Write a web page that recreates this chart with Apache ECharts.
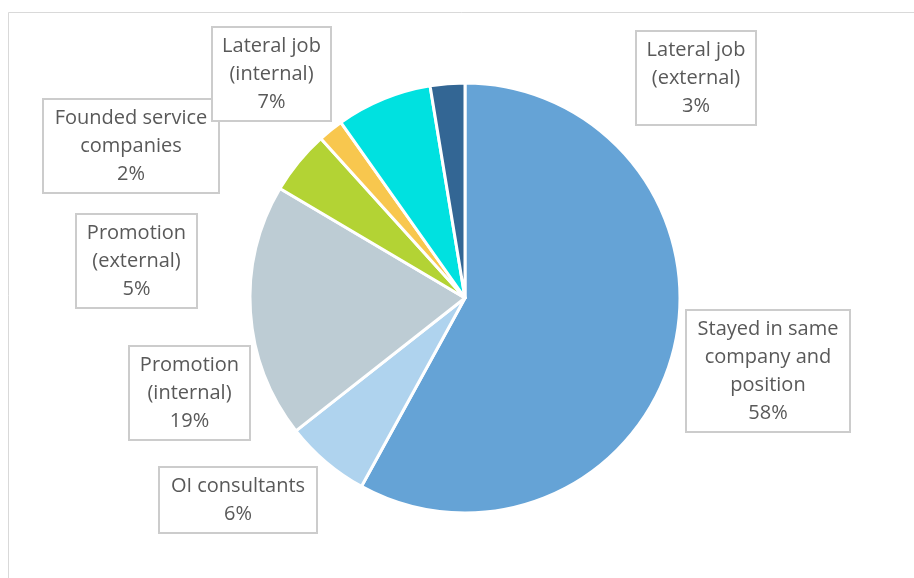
<!DOCTYPE html>
<html>
<head>
<meta charset="utf-8">
<script src="https://cdn.jsdelivr.net/npm/echarts@6/dist/echarts.min.js"></script>
<style>
html,body{margin:0;padding:0;background:#fff;}
#chart{width:914px;height:578px;}
</style>
</head>
<body>
<div id="chart"></div>
<script>
var categories = [
  'Stayed in same\ncompany and\nposition',
  'OI consultants',
  'Promotion\n(internal)',
  'Promotion\n(external)',
  'Founded service\ncompanies',
  'Lateral job\n(internal)',
  'Lateral job\n(external)'
];
var shares = [58.0, 6.4, 19.1, 4.8, 1.9, 7.2, 2.6];
var colors = ['#65A3D6', '#AFD3EE', '#BDCCD4', '#B3D334', '#F8C74E', '#00E1E0', '#336694'];

// label box centres and box widths (layout only)
var labelCenters = [
  [768, 371], [238, 500], [189.5, 393], [136.5, 261], [131, 146], [271.5, 74], [696, 78]
];
var boxWidths = [164, 158, 121, 121, 176, 119, 120];

var chart = echarts.init(document.getElementById('chart'), null, {renderer: 'canvas'});
var data = categories.map(function (c, i) {
  return {name: c, value: shares[i], itemStyle: {color: colors[i]},
    label: {width: boxWidths[i] - 18, overflow: 'none'}};
});
chart.setOption({
  animation: false,
  backgroundColor: '#fff',
  graphic: [{
    type: 'rect',
    shape: {x: 8.5, y: 12.5, width: 940, height: 640},
    style: {fill: 'none', stroke: '#D9D9D9', lineWidth: 1},
    silent: true, z: -10
  }],
  series: [{
    type: 'pie',
    center: [465, 298],
    radius: [0, 215],
    startAngle: 90,
    clockwise: true,
    data: data,
    itemStyle: {borderColor: '#fff', borderWidth: 3},
    labelLine: {show: false},
    label: {
      show: true,
      position: 'outside',
      formatter: function (p) { return p.name + '\n' + Math.round(p.percent) + '%'; },
      fontFamily: 'Open Sans',
      fontSize: 20,
      lineHeight: 28,
      color: '#595959',
      align: 'center',
      backgroundColor: '#fff',
      borderColor: '#CCCCCC',
      borderWidth: 2,
      padding: [4, 8]
    },
    labelLayout: function (p) {
      var c = labelCenters[p.dataIndex];
      return {x: c[0], y: c[1], align: 'center', verticalAlign: 'middle', moveOverlap: null, hideOverlap: false};
    },
    emphasis: {disabled: true}
  }]
});
</script>
</body>
</html>
